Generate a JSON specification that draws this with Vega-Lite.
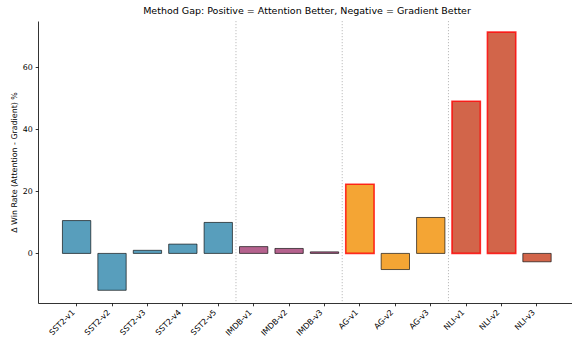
{
  "$schema": "https://vega.github.io/schema/vega-lite/v6.json",
  "width": 534,
  "height": 282,
  "autosize": {"type": "none"},
  "padding": {"left": 38, "top": 21, "right": 0, "bottom": 35},
  "config": {
    "view": {"stroke": null},
    "font": "DejaVu Sans",
    "axis": {"grid": false, "domainColor": "#000000", "domainWidth": 0.8, "tickColor": "#000000", "tickWidth": 0.8, "tickSize": 2.8, "labelColor": "#000000", "labelFontSize": 7.9, "titleFontSize": 7.9, "titleFontWeight": "normal", "titleColor": "#000000", "labelPadding": 2.8}
  },
  "title": {"text": "Method Gap: Positive = Attention Better, Negative = Gradient Better", "fontSize": 9.5, "fontWeight": "normal", "color": "#000000", "offset": 5, "dx": 2},
  "datasets": {
    "bars": [
      {"dataset": "SST2-v1", "gap": 10.6, "group": "SST2", "highlight": false},
      {"dataset": "SST2-v2", "gap": -11.9, "group": "SST2", "highlight": false},
      {"dataset": "SST2-v3", "gap": 1.0, "group": "SST2", "highlight": false},
      {"dataset": "SST2-v4", "gap": 3.0, "group": "SST2", "highlight": false},
      {"dataset": "SST2-v5", "gap": 10.0, "group": "SST2", "highlight": false},
      {"dataset": "IMDB-v1", "gap": 2.2, "group": "IMDB", "highlight": false},
      {"dataset": "IMDB-v2", "gap": 1.6, "group": "IMDB", "highlight": false},
      {"dataset": "IMDB-v3", "gap": 0.5, "group": "IMDB", "highlight": false},
      {"dataset": "AG-v1", "gap": 22.3, "group": "AG", "highlight": true},
      {"dataset": "AG-v2", "gap": -5.2, "group": "AG", "highlight": false},
      {"dataset": "AG-v3", "gap": 11.6, "group": "AG", "highlight": false},
      {"dataset": "NLI-v1", "gap": 49.1, "group": "NLI", "highlight": true},
      {"dataset": "NLI-v2", "gap": 71.4, "group": "NLI", "highlight": true},
      {"dataset": "NLI-v3", "gap": -2.7, "group": "NLI", "highlight": false}
    ],
    "seps": [
      {"first": "IMDB-v1"},
      {"first": "AG-v1"},
      {"first": "NLI-v1"}
    ]
  },
  "layer": [
    {
      "data": {"name": "seps"},
      "mark": {"type": "rule", "color": "#b5b5b5", "strokeDash": [1.2, 1.8], "strokeWidth": 0.9},
      "encoding": {
        "x": {"field": "first", "type": "nominal", "bandPosition": -0.125}
      }
    },
    {
      "data": {"name": "bars"},
      "mark": {"type": "bar", "fillOpacity": 0.8, "strokeOpacity": 0.8},
      "encoding": {
        "x": {
          "field": "dataset", "type": "nominal",
          "scale": {
            "domain": ["SST2-v1", "SST2-v2", "SST2-v3", "SST2-v4", "SST2-v5", "IMDB-v1", "IMDB-v2", "IMDB-v3", "AG-v1", "AG-v2", "AG-v3", "NLI-v1", "NLI-v2", "NLI-v3"],
            "range": [0, 537.6],
            "paddingInner": 0.2,
            "paddingOuter": 0.69
          },
          "axis": {"title": null, "labelAngle": -45, "labelAlign": "right", "labelBaseline": "bottom", "labelPadding": 8}
        },
        "y": {
          "field": "gap", "type": "quantitative",
          "scale": {"domain": [-16, 75], "nice": false, "zero": false},
          "axis": {"title": "Δ Win Rate (Attention - Gradient) %", "values": [0, 20, 40, 60], "titlePadding": 3.5}
        },
        "fill": {
          "field": "group", "type": "nominal", "legend": null,
          "scale": {"domain": ["SST2", "IMDB", "AG", "NLI"], "range": ["#2E86AB", "#A23B72", "#F18F01", "#C73E1D"]}
        },
        "stroke": {
          "field": "highlight", "type": "nominal", "legend": null,
          "scale": {"domain": [false, true], "range": ["#000000", "#ff0000"]}
        },
        "strokeWidth": {
          "field": "highlight", "type": "nominal", "legend": null,
          "scale": {"domain": [false, true], "range": [0.8, 1.6]}
        }
      }
    },
    {
      "mark": {"type": "rule", "color": "#000000", "strokeWidth": 0.9},
      "encoding": {"y": {"datum": 0}}
    },
    {
      "mark": {"type": "rule", "color": "#000000", "strokeWidth": 0.8},
      "encoding": {"y": {"datum": 75}}
    }
  ]
}
